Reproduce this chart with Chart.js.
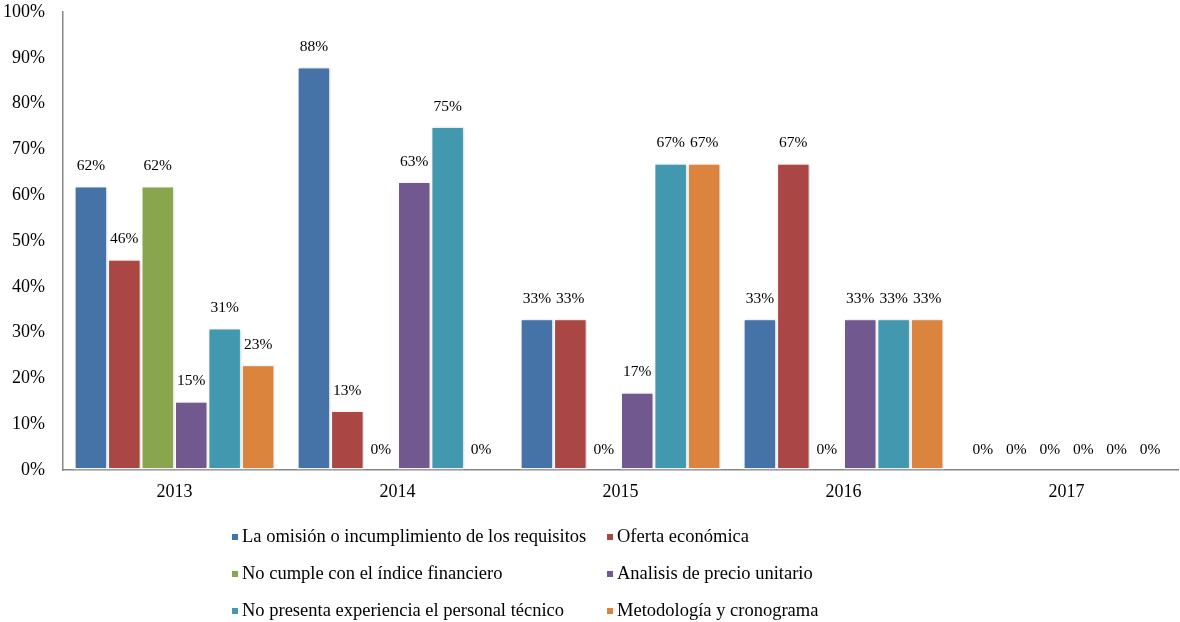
<!DOCTYPE html>
<html>
<head>
<meta charset="utf-8">
<script src="https://cdn.jsdelivr.net/npm/chart.js@4.4.1/dist/chart.umd.min.js"></script>
<style>
  html,body{margin:0;padding:0;background:#fff;}
  #c{display:block;}
</style>
</head>
<body>
<canvas id="c" width="1180" height="622"></canvas>
<script>
const categories = ["2013", "2014", "2015", "2016", "2017"];
const seriesNames = [
  "La omisión o incumplimiento de los requisitos",
  "Oferta económica",
  "No cumple con el índice financiero",
  "Analisis de precio unitario",
  "No presenta experiencia el personal técnico",
  "Metodología y cronograma"
];
const omision      = [62, 88, 33, 33, 0];
const oferta       = [46, 13, 33, 67, 0];
const indice       = [62, 0, 0, 0, 0];
const analisis     = [15, 63, 17, 33, 0];
const experiencia  = [31, 75, 67, 33, 0];
const metodologia  = [23, 0, 67, 33, 0];
const yTicks = [0, 10, 20, 30, 40, 50, 60, 70, 80, 90, 100];

const colors = ["#4572A7", "#AA4643", "#89A54E", "#71588F", "#4198AF", "#DB843D"];
const seriesValues = [omision, oferta, indice, analisis, experiencia, metodologia];
const serifFont = '"Liberation Serif", Tinos, "Times New Roman", Times, serif';

const datasets = seriesValues.map((vals, i) => ({
  label: seriesNames[i],
  data: vals,
  backgroundColor: colors[i],
  borderColor: "#ffffff",
  borderWidth: 1.5,
  borderSkipped: false
}));

const labelPlugin = {
  id: "valueLabels",
  afterDatasetsDraw(chart) {
    const ctx = chart.ctx;
    ctx.save();
    ctx.font = '15.5px ' + serifFont;
    ctx.fillStyle = "#000";
    ctx.textAlign = "center";
    ctx.textBaseline = "middle";
    chart.data.datasets.forEach((ds, di) => {
      const meta = chart.getDatasetMeta(di);
      meta.data.forEach((el, idx) => {
        ctx.fillText(ds.data[idx] + "%", el.x, el.y - 20);
      });
    });
    ctx.restore();
  }
};

const shadowPlugin = {
  id: "barShadow",
  beforeDatasetsDraw(chart) {
    const ctx = chart.ctx;
    ctx.save();
    ctx.shadowColor = "rgba(0,0,0,0.18)";
    ctx.shadowBlur = 3;
    ctx.shadowOffsetX = 1;
    ctx.shadowOffsetY = 0;
  },
  afterDatasetsDraw(chart) {
    chart.ctx.restore();
  }
};

// Legend drawn in two columns, three rows below the plot
const legendPlugin = {
  id: "gridLegend",
  afterDraw(chart) {
    const ctx = chart.ctx;
    const colX = [232, 607];
    const rowY = [537, 574, 611];
    ctx.save();
    ctx.font = '18.5px ' + serifFont;
    ctx.textAlign = "left";
    ctx.textBaseline = "middle";
    chart.data.datasets.forEach((ds, i) => {
      const x = colX[i % 2];
      const y = rowY[Math.floor(i / 2)];
      ctx.fillStyle = ds.backgroundColor;
      ctx.fillRect(x, y - 3, 6, 6);
      ctx.fillStyle = "#000";
      ctx.fillText(ds.label, x + 10, y);
    });
    ctx.restore();
  }
};

new Chart(document.getElementById("c"), {
  type: "bar",
  data: { labels: categories, datasets: datasets },
  options: {
    responsive: false,
    animation: false,
    layout: { padding: { top: 12, right: 2, bottom: 117, left: 0 } },
    datasets: { bar: { categoryPercentage: 0.9, barPercentage: 1.0 } },
    plugins: {
      legend: { display: false },
      tooltip: { enabled: false }
    },
    scales: {
      x: {
        afterFit(scale) { scale.height = 35; },
        grid: { display: false, drawTicks: false },
        border: { display: true, color: "#868686", width: 1.5 },
        ticks: {
          color: "#000",
          padding: 11,
          maxRotation: 0,
          font: { family: serifFont, size: 18 }
        }
      },
      y: {
        min: 0,
        max: 100,
        afterBuildTicks(scale) { scale.ticks = yTicks.map(v => ({ value: v })); },
        afterFit(scale) { scale.width = 63; },
        grid: {
          display: true,
          drawOnChartArea: false,
          drawTicks: true,
          tickLength: 18,
          color: "rgba(0,0,0,0)",
          tickColor: "rgba(0,0,0,0)"
        },
        border: { display: true, color: "#868686", width: 1.5 },
        ticks: {
          color: "#000",
          padding: 0,
          font: { family: serifFont, size: 18 },
          callback: v => v + "%"
        }
      }
    }
  },
  plugins: [shadowPlugin, labelPlugin, legendPlugin]
});
</script>
</body>
</html>
